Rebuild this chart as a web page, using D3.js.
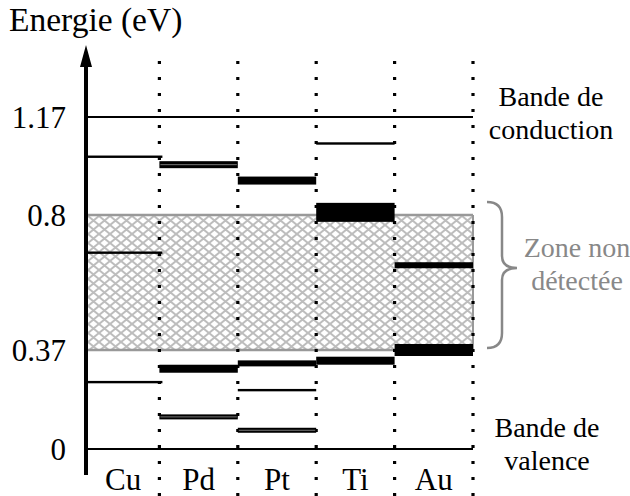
<!DOCTYPE html>
<html><head><meta charset="utf-8">
<script src="https://cdn.jsdelivr.net/npm/d3@7"></script>
<style>body{margin:0;background:#fff;} svg{display:block;} text{font-family:"Liberation Serif","Times New Roman",Times,"Nimbus Roman","DejaVu Serif",serif;}</style>
</head><body>
<script>
// ---- data ----
const metals = ["Cu", "Pd", "Pt", "Ti", "Au"];
const tickValues = [0, 0.37, 0.8, 1.17];
const tickLabels = ["0", "0.37", "0.8", "1.17"];
const bandConduction = 1.17;
const bandValence = 0;
const zoneLow = 0.37, zoneHigh = 0.8;
// trap levels per metal (eV), kind: thin / double / bar / heavy / block
const levelsCu = [{e: 1.02, k: "thin"}, {e: 0.68, k: "thin"}, {e: 0.25, k: "thin"}];
const levelsPd = [{e: 0.99, k: "double"}, {e: 0.30, k: "bar"}, {e: 0.12, k: "doubleThin"}];
const levelsPt = [{e: 0.93, k: "bar"}, {e: 0.32, k: "bar6"}, {e: 0.22, k: "thin"}, {e: 0.07, k: "doubleThin"}];
const levelsTi = [{e: 1.07, k: "thin"}, {e: 0.81, k: "block"}, {e: 0.33, k: "bar"}];
const levelsAu = [{e: 0.64, k: "bar6"}, {e: 0.37, k: "heavy"}];
const allLevels = [levelsCu, levelsPd, levelsPt, levelsTi, levelsAu];

const W = 630, H = 496;
const svg = d3.select("body").append("svg").attr("width", W).attr("height", H);

const x = d3.scaleBand().domain(metals).range([81, 473]);
const y = d3.scaleLinear().domain(tickValues).range([449, 350, 215, 117]);
const axisX = 86;
const xEnd = 473;

// hatch pattern
const defs = svg.append("defs");
const pat = defs.append("pattern").attr("id", "hatch").attr("patternUnits", "userSpaceOnUse")
  .attr("width", 11).attr("height", 9);
pat.append("rect").attr("width", 11).attr("height", 9).attr("fill", "#fff");
pat.append("path").attr("d", "M0,0 L11,9 M11,0 L0,9").attr("stroke", "#bdbdbd").attr("stroke-width", 2);

// zone non détectée
svg.append("rect").attr("x", axisX).attr("y", y(zoneHigh))
  .attr("width", xEnd - axisX).attr("height", y(zoneLow) - y(zoneHigh))
  .attr("fill", "url(#hatch)").attr("stroke", "none");
svg.append("line").attr("x1", axisX).attr("x2", xEnd).attr("y1", y(zoneHigh)).attr("y2", y(zoneHigh))
  .attr("stroke", "#999").attr("stroke-width", 2.5);
svg.append("line").attr("x1", axisX).attr("x2", xEnd).attr("y1", y(zoneLow)).attr("y2", y(zoneLow))
  .attr("stroke", "#999").attr("stroke-width", 2.5);
svg.append("line").attr("x1", xEnd).attr("x2", xEnd).attr("y1", y(zoneHigh)).attr("y2", y(zoneLow))
  .attr("stroke", "#999").attr("stroke-width", 2);

// band lines
[bandConduction, bandValence].forEach(v => {
  svg.append("line").attr("x1", axisX).attr("x2", xEnd).attr("y1", y(v)).attr("y2", y(v))
    .attr("stroke", "#000").attr("stroke-width", 2.2);
});

// dotted separators
const seps = metals.slice(1).map(m => x(m)).concat([x(metals[metals.length - 1]) + x.bandwidth()]);
svg.selectAll("line.sep").data(seps).enter().append("line").attr("class", "sep")
  .attr("x1", d => d).attr("x2", d => d).attr("y1", 61).attr("y2", 496)
  .attr("stroke", "#000").attr("stroke-width", 3.2).attr("stroke-dasharray", "3,13");

// levels
const kindH = {thin: 2.4, bar: 8, bar6: 6, heavy: 12, block: 19, double: 7, doubleThin: 5};
metals.forEach((m, i) => {
  const x0 = Math.max(x(m), axisX), x1 = x(m) + x.bandwidth() + (i === 0 ? 3 : 0);
  const g = svg.append("g");
  allLevels[i].forEach(l => {
    const h = kindH[l.k];
    g.append("rect").attr("x", x0).attr("width", x1 - x0)
      .attr("y", y(l.e) - h / 2).attr("height", h).attr("fill", "#000");
    if (l.k === "double" || l.k === "doubleThin") {
      g.append("line").attr("x1", x0 + 1).attr("x2", x1 - 1)
        .attr("y1", y(l.e)).attr("y2", y(l.e)).attr("stroke", "#777").attr("stroke-width", 1);
    }
  });
});

// y axis with arrow
svg.append("line").attr("x1", axisX).attr("x2", axisX).attr("y1", 60).attr("y2", 475)
  .attr("stroke", "#000").attr("stroke-width", 4);
svg.append("path").attr("d", `M${axisX - 6},67 L${axisX},45 L${axisX + 6},67 Z`).attr("fill", "#000");

// tick labels
svg.selectAll("text.tick").data(tickValues).enter().append("text").attr("class", "tick")
  .attr("x", 66).attr("y", d => y(d)).attr("dy", "0.35em").attr("text-anchor", "end")
  .attr("font-size", 31).text((d, i) => tickLabels[i]);

// axis title
svg.append("text").attr("x", 9).attr("y", 31).attr("font-size", 33.5)
  .text("Energie (eV)");

// category labels
svg.selectAll("text.cat").data(metals).enter().append("text").attr("class", "cat")
  .attr("x", d => x(d) + x.bandwidth() / 2 + (d === "Cu" ? 3 : 0)).attr("y", 490)
  .attr("text-anchor", "middle").attr("font-size", 31).text(d => d);

// right annotations
function twoLines(lines, cx, y0, color) {
  const t = svg.append("text").attr("font-size", 28)
    .attr("fill", color).attr("text-anchor", "middle");
  lines.forEach((s, i) => t.append("tspan").attr("x", cx).attr("y", y0 + i * 33).text(s));
}
twoLines(["Bande de", "conduction"], 551, 106, "#000");
twoLines(["Bande de", "valence"], 547, 437, "#000");
twoLines(["Zone non", "détectée"], 577, 257, "#888");

// brace
const bt = y(zoneHigh) - 13, bb = y(zoneLow) - 2, bm = (bt + bb) / 2 - 7;
svg.append("path")
  .attr("d", `M487,${bt} Q502,${bt} 502,${bt + 15} L502,${bm - 12} Q502,${bm} 517,${bm}
              Q502,${bm} 502,${bm + 12} L502,${bb - 15} Q502,${bb} 487,${bb}`)
  .attr("fill", "none").attr("stroke", "#888").attr("stroke-width", 2.5);
</script>
</body></html>
